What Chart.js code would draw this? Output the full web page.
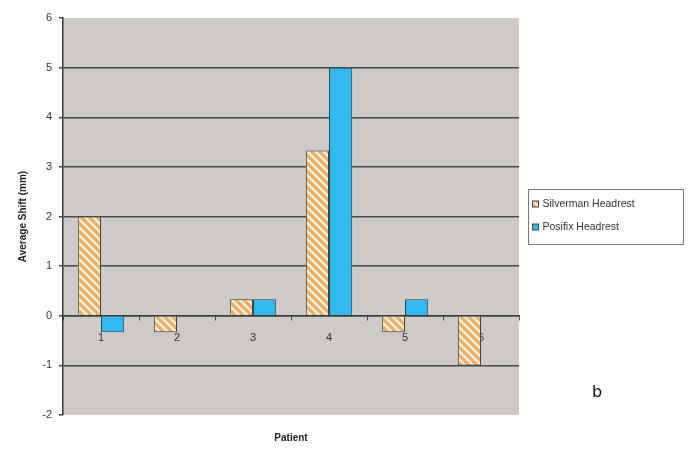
<!DOCTYPE html>
<html>
<head>
<meta charset="utf-8">
<script src="https://cdn.jsdelivr.net/npm/chart.js@4"></script>
<style>
  html, body { margin: 0; padding: 0; background: #ffffff; }
  #wrap { width: 695px; height: 450px; position: relative; }
</style>
</head>
<body>
<div id="wrap"><canvas id="c" width="695" height="450"></canvas></div>
<script>
// Average shift per patient for the two headrest systems (mm)
const patients = ['1', '2', '3', '4', '5', '6'];
const silvermanShift = [2, -0.33, 0.33, 3.33, -0.33, -1];
const posifixShift = [-0.33, 0, 0.33, 5, 0.33, 0];
const seriesNames = ['Silverman Headrest', 'Posifix Headrest'];
const yMin = -2, yMax = 6, yStep = 1;

const FONT = '"Liberation Sans", Arial, sans-serif';

// diagonal hatch fill for the Silverman bars
function makeHatch() {
  const s = 8;
  const p = document.createElement('canvas');
  p.width = s; p.height = s;
  const g = p.getContext('2d');
  g.fillStyle = '#fcefd6';
  g.fillRect(0, 0, s, s);
  g.strokeStyle = '#e8b066';
  g.lineWidth = 3.2;
  for (let k = -1; k <= 1; k++) {
    g.beginPath();
    g.moveTo(k * s - 1, -1);
    g.lineTo(k * s + s + 1, s + 1);
    g.stroke();
  }
  return document.getElementById('c').getContext('2d').createPattern(p, 'repeat');
}
const hatch = makeHatch();
const blue = '#2fb9ec';

// grey plot background
const plotBackground = {
  id: 'plotBackground',
  beforeDraw(chart) {
    const { ctx, chartArea: a } = chart;
    ctx.save();
    ctx.fillStyle = '#cdcac8';
    ctx.fillRect(a.left, a.top, a.right - a.left, a.bottom - a.top);
    ctx.restore();
  }
};

// boxed legend, x-axis title and panel letter
const annotations = {
  id: 'annotations',
  afterDraw(chart) {
    const { ctx, chartArea: a } = chart;
    ctx.save();
    // x-axis title
    ctx.fillStyle = '#222';
    ctx.font = 'bold 10px ' + FONT;
    ctx.textAlign = 'center';
    ctx.textBaseline = 'middle';
    ctx.fillText('Patient', (a.left + a.right) / 2, 438);

    // legend
    const lx = 528.5, ly = 189.5, lw = 155, lh = 55;
    ctx.fillStyle = '#ffffff';
    ctx.fillRect(lx, ly, lw, lh);
    ctx.strokeStyle = '#777';
    ctx.lineWidth = 1;
    ctx.strokeRect(lx, ly, lw, lh);
    const fills = [hatch, blue];
    const rows = [204, 227];
    ctx.font = '10.5px ' + FONT;
    ctx.textAlign = 'left';
    seriesNames.forEach((name, i) => {
      ctx.fillStyle = fills[i];
      ctx.fillRect(lx + 4, rows[i] - 3, 6, 6);
      ctx.strokeStyle = '#444';
      ctx.strokeRect(lx + 4, rows[i] - 3, 6, 6);
      ctx.fillStyle = '#333';
      ctx.fillText(name, lx + 14, rows[i]);
    });

    // panel letter
    ctx.fillStyle = '#111';
    ctx.font = '16px ' + '"DejaVu Sans", sans-serif';
    ctx.textAlign = 'center';
    ctx.fillText('b', 597, 393);
    ctx.restore();
  }
};

new Chart(document.getElementById('c'), {
  type: 'bar',
  data: {
    labels: patients,
    datasets: [
      {
        label: seriesNames[0],
        data: silvermanShift,
        backgroundColor: hatch,
        borderColor: '#4a4036',
        borderWidth: 1
      },
      {
        label: seriesNames[1],
        data: posifixShift,
        backgroundColor: blue,
        borderColor: '#23465e',
        borderWidth: 1
      }
    ]
  },
  options: {
    responsive: false,
    animation: false,
    devicePixelRatio: 1,
    layout: { padding: { left: 0, right: 176, top: 18, bottom: 35 } },
    datasets: { bar: { categoryPercentage: 0.61, barPercentage: 1 } },
    plugins: {
      legend: { display: false },
      tooltip: { enabled: false }
    },
    scales: {
      x: {
        position: { y: 0 },
        grid: {
          offset: true,
          drawOnChartArea: false,
          drawTicks: true,
          tickLength: 4,
          color: '#444',
          lineWidth: 1
        },
        border: { display: true, color: '#3a3a3a', width: 1.5 },
        ticks: {
          color: '#333',
          font: { family: FONT, size: 11 },
          padding: 12,
          maxRotation: 0
        }
      },
      y: {
        min: yMin,
        max: yMax,
        afterFit(scale) { scale.width = 63; },
        ticks: {
          stepSize: yStep,
          color: '#333',
          font: { family: FONT, size: 11 },
          padding: 7
        },
        grid: {
          color: ctx => (ctx.tick && (ctx.tick.value === yMin || ctx.tick.value === yMax)) ? 'rgba(0,0,0,0)' : '#4a4a4a',
          tickColor: '#444',
          lineWidth: 1.5,
          tickLength: 4
        },
        border: { display: true, color: '#3a3a3a', width: 1.5 },
        title: {
          display: true,
          text: 'Average Shift (mm)',
          color: '#222',
          font: { family: FONT, size: 10, weight: 'bold' },
          padding: { top: 17, bottom: 0 }
        }
      }
    }
  },
  plugins: [plotBackground, annotations]
});
</script>
</body>
</html>
